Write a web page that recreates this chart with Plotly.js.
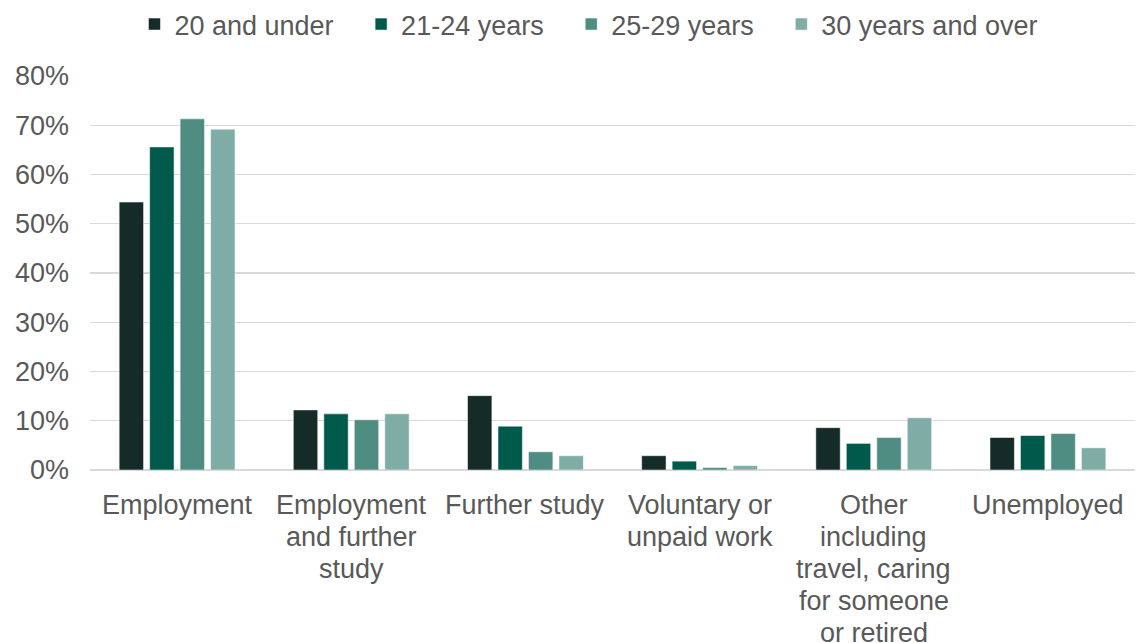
<!DOCTYPE html>
<html>
<head>
<meta charset="utf-8">
<script src="https://cdn.plot.ly/plotly-3.0.1.min.js"></script>
<style>html,body{margin:0;padding:0;background:#fff;}#chart{width:1137px;height:643px;}</style>
</head>
<body>
<div id="chart"></div>
<script>
const categories = ["Employment", "Employment and further study", "Further study", "Voluntary or unpaid work", "Other including travel, caring for someone or retired", "Unemployed"];
const categoryLines = [
  ["Employment"],
  ["Employment", "and further", "study"],
  ["Further study"],
  ["Voluntary or", "unpaid work"],
  ["Other", "including", "travel, caring", "for someone", "or retired"],
  ["Unemployed"]
];
const seriesNames = ["20 and under", "21-24 years", "25-29 years", "30 years and over"];
const under20 = [54.4, 12.2, 15.1, 2.9, 8.6, 6.6];
const age21to24 = [65.6, 11.4, 8.9, 1.8, 5.4, 7.0];
const age25to29 = [71.3, 10.2, 3.7, 0.5, 6.6, 7.4];
const age30plus = [69.2, 11.4, 2.9, 0.9, 10.6, 4.5];
const colors = ["#142b28", "#005a4b", "#4f8c82", "#80aca6"];
const yTickVals = [0, 10, 20, 30, 40, 50, 60, 70, 80];
const yTickText = ["0%", "10%", "20%", "30%", "40%", "50%", "60%", "70%", "80%"];

const allSeries = [under20, age21to24, age25to29, age30plus];
const NB = "\u00a0\u00a0\u00a0";
const traces = allSeries.map((vals, i) => ({
  type: "bar",
  name: seriesNames[i] + (i < allSeries.length - 1 ? NB : ""),
  x: categories,
  y: vals,
  marker: {color: colors[i], line: {color: "#ffffff", width: 0.5}},
  hoverinfo: "skip"
}));

const FS = 27;
const annotations = [];
categoryLines.forEach((lines, ci) => {
  lines.forEach((ln, li) => {
    annotations.push({
      text: ln, x: categories[ci], xref: "x", y: 0, yref: "paper",
      yanchor: "middle", xanchor: "center", yshift: -35 - 32 * li,
      showarrow: false, font: {size: FS, color: "#595959"}
    });
  });
});

const layout = {
  width: 1137, height: 643,
  margin: {l: 90, r: 2, t: 76, b: 173},
  paper_bgcolor: "#ffffff", plot_bgcolor: "#ffffff",
  font: {family: "Liberation Sans, Arial, sans-serif", size: FS, color: "#595959"},
  barmode: "group",
  bargap: 0.3,
  bargroupgap: 0.2,
  showlegend: true,
  legend: {orientation: "h", x: 0.477, xanchor: "center", y: 1.0, yanchor: "top", yref: "container",
           font: {size: FS, color: "#595959"}, itemwidth: 30, traceorder: "normal", tracegroupgap: 0},
  xaxis: {showticklabels: false, showgrid: false, showline: false, ticks: "", automargin: false},
  yaxis: {range: [0, 80], tickvals: yTickVals, ticktext: yTickText, showgrid: true, gridcolor: "#d9d9d9", gridwidth: 1.3,
          zeroline: true, zerolinecolor: "#d9d9d9", zerolinewidth: 1.3, showline: false, ticks: "",
          tickfont: {size: FS, color: "#595959"}, automargin: false, ticklabelstandoff: 20},
  annotations: annotations
};
Plotly.newPlot("chart", traces, layout, {staticPlot: true, displayModeBar: false});
</script>
</body>
</html>
